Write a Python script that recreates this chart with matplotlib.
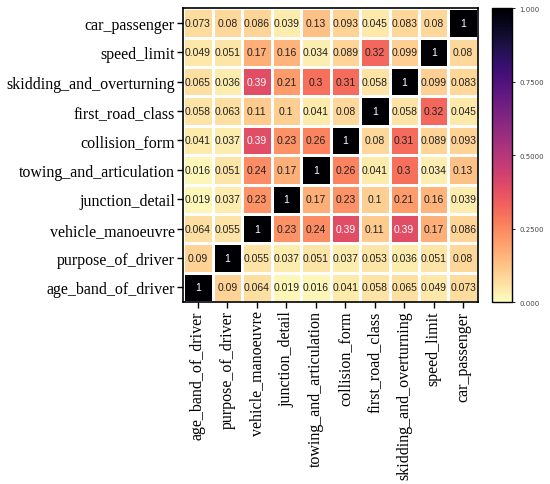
import matplotlib
matplotlib.use("Agg")
import matplotlib.pyplot as plt
import numpy as np

# variable names, bottom row / left column first
names = ["age_band_of_driver", "purpose_of_driver", "vehicle_manoeuvre",
         "junction_detail", "towing_and_articulation", "collision_form",
         "first_road_class", "skidding_and_overturning", "speed_limit",
         "car_passenger"]

# correlation values as printed, one list per row (bottom -> top)
age_band_of_driver       = [1, 0.09, 0.064, 0.019, 0.016, 0.041, 0.058, 0.065, 0.049, 0.073]
purpose_of_driver        = [0.09, 1, 0.055, 0.037, 0.051, 0.037, 0.053, 0.036, 0.051, 0.08]
vehicle_manoeuvre        = [0.064, 0.055, 1, 0.23, 0.24, 0.39, 0.11, 0.39, 0.17, 0.086]
junction_detail          = [0.019, 0.037, 0.23, 1, 0.17, 0.23, 0.1, 0.21, 0.16, 0.039]
towing_and_articulation  = [0.016, 0.051, 0.24, 0.17, 1, 0.26, 0.041, 0.3, 0.034, 0.13]
collision_form           = [0.041, 0.037, 0.39, 0.23, 0.26, 1, 0.08, 0.31, 0.089, 0.093]
first_road_class         = [0.058, 0.063, 0.11, 0.1, 0.041, 0.08, 1, 0.058, 0.32, 0.045]
skidding_and_overturning = [0.065, 0.036, 0.39, 0.21, 0.3, 0.31, 0.058, 1, 0.099, 0.083]
speed_limit              = [0.049, 0.051, 0.17, 0.16, 0.034, 0.089, 0.32, 0.099, 1, 0.08]
car_passenger            = [0.073, 0.08, 0.086, 0.039, 0.13, 0.093, 0.045, 0.083, 0.08, 1]

cbar_ticks = [0, 0.25, 0.5, 0.75, 1.0]
cbar_labels = ["0.000", "0.2500", "0.5000", "0.7500", "1.000"]

corr = np.array([age_band_of_driver, purpose_of_driver, vehicle_manoeuvre,
                 junction_detail, towing_and_articulation, collision_form,
                 first_road_class, skidding_and_overturning, speed_limit,
                 car_passenger])

fig = plt.figure(figsize=(5.5, 4.85), dpi=100)
ax = fig.add_axes([0.333, 0.375, 0.536, 0.606])
cax = fig.add_axes([0.8945, 0.375, 0.036, 0.606])

mesh = ax.pcolormesh(corr, cmap="magma_r", vmin=0, vmax=1,
                     edgecolors="white", linewidth=0.8)

n = len(names)
for i in range(n):
    for j in range(n):
        v = corr[i, j]
        ax.text(j + 0.5, i + 0.5, "%g" % v, ha="center", va="center",
                fontsize=7.5, family="Liberation Sans",
                color="white" if v > 0.35 else "#222222")

ax.set_xlim(0, n)
ax.set_ylim(0, n)
ax.set_xticks(np.arange(n) + 0.5)
ax.set_yticks(np.arange(n) + 0.5)
ax.set_xticklabels(names, rotation=90, family="Liberation Serif", fontsize=11.5)
ax.set_yticklabels(names, family="Liberation Serif", fontsize=11.5)
ax.tick_params(length=4, width=1, color="black", pad=2)
for s in ax.spines.values():
    s.set_linewidth(1.2)
    s.set_color("black")

cb = fig.colorbar(mesh, cax=cax)
cb.set_ticks(cbar_ticks)
cb.set_ticklabels(cbar_labels)
cb.ax.tick_params(labelsize=5, length=2, width=0.6, labelcolor="#444444")
cb.outline.set_linewidth(1.0)
cb.outline.set_edgecolor("black")

fig.savefig("out.png", dpi=100)
